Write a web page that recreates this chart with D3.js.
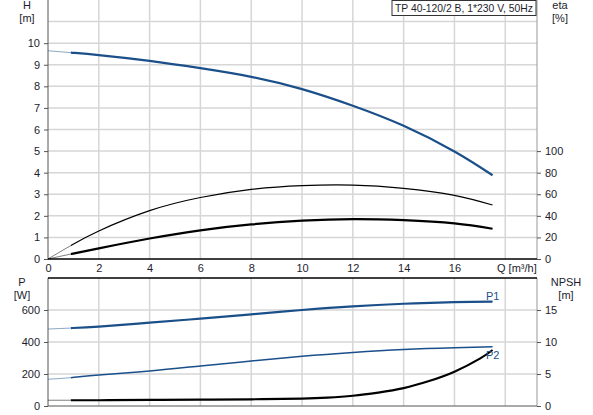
<!DOCTYPE html>
<html>
<head>
<meta charset="utf-8">
<script src="https://cdn.jsdelivr.net/npm/d3@7"></script>
<style>
  body { margin: 0; background: #fff; }
  svg text { font-family: Arial, "Liberation Sans", sans-serif; font-size: 11px; fill: #1c1c2c; }
</style>
</head>
<body>
<script>
// values
var qPoints   = [0, 0.9, 2, 4, 6, 8, 10, 12, 14, 16, 17.5];
var headM     = [9.65, 9.56, 9.45, 9.18, 8.84, 8.44, 7.87, 7.1, 6.17, 4.98, 3.88];
var etaPump   = [0, 12.5, 26, 44.8, 57, 64.5, 68, 68.5, 65.5, 59, 50];
var etaTotal  = [0, 4.6, 9.9, 19, 26.6, 32, 35.5, 37, 36, 33, 28];
var powerP1   = [481, 487, 496, 521, 546, 573, 600, 623, 639, 649, 652];
var powerP2   = [167, 177, 194, 219, 250, 281, 311, 335, 353, 364, 370];
var npshQ     = [0, 2, 4, 6, 8, 10, 11, 12, 13, 14, 15, 16, 17, 17.5];
var npshM     = [0.9, 0.9, 0.95, 1.0, 1.05, 1.15, 1.3, 1.6, 2.1, 2.8, 3.9, 5.36, 7.4, 8.75];

var qTicks    = [0, 2, 4, 6, 8, 10, 12, 14, 16];
var hTicks    = [0, 1, 2, 3, 4, 5, 6, 7, 8, 9, 10];
var etaTicks  = [0, 20, 40, 60, 80, 100];
var pTicks    = [0, 200, 400, 600];
var npshTicks = [0, 5, 10, 15];
var title     = "TP 40-120/2 B, 1*230 V, 50Hz";

var width = 593, height = 415;
var blue = "#1b4f8a";
var grid = "#d6d6d6";

var svg = d3.select("body").append("svg").attr("width", width).attr("height", height);

var x = d3.scaleLinear().domain([0, 19.25]).range([48, 537]);
var yH = d3.scaleLinear().domain([0, 12]).range([259, 0]);
var yEta = d3.scaleLinear().domain([0, 240]).range([259, 0]);
var yP = d3.scaleLinear().domain([0, 800]).range([406, 278]);
var yN = d3.scaleLinear().domain([0, 20]).range([406, 278]);

// clip regions: the part below 0.9 m3/h is drawn faint
var defs = svg.append("defs");
defs.append("clipPath").attr("id", "lowQ").append("rect")
  .attr("x", 0).attr("y", 0).attr("width", x(0.9)).attr("height", height);
defs.append("clipPath").attr("id", "mainQ").append("rect")
  .attr("x", x(0.9)).attr("y", 0).attr("width", width).attr("height", height);

// gridlines
function vGrid(top, bottom) {
  svg.append("g").selectAll("line")
    .data(d3.range(2, 19, 2))
    .enter().append("line")
    .attr("x1", function(d) { return x(d); }).attr("x2", function(d) { return x(d); })
    .attr("y1", top).attr("y2", bottom)
    .style("stroke", grid).style("stroke-width", 1.5);
}
function hGrid(scale, vals) {
  svg.append("g").selectAll("line")
    .data(vals)
    .enter().append("line")
    .attr("x1", 48).attr("x2", 537)
    .attr("y1", function(d) { return scale(d); }).attr("y2", function(d) { return scale(d); })
    .style("stroke", grid).style("stroke-width", 1.5);
}
vGrid(0, 259);
vGrid(278, 406);
hGrid(yH, d3.range(1, 12));
hGrid(yP, [200, 400, 600]);

// axes
function styleAxis(g, color) {
  g.selectAll("path").style("stroke", color);
  g.selectAll("line").style("stroke", color);
  g.selectAll("text").style("font-size", "11px").style("font-family", "Arial, 'Liberation Sans', sans-serif").style("fill", "#1c1c2c");
}

var axHL = svg.append("g").attr("transform", "translate(48,0)")
  .call(d3.axisLeft(yH).tickValues(hTicks).tickSize(4).tickSizeOuter(0).tickPadding(4));
styleAxis(axHL, "#555");
axHL.select("path").attr("d", "M0,259V0");

var axEta = svg.append("g").attr("transform", "translate(537,0)")
  .call(d3.axisRight(yEta).tickValues(etaTicks).tickSize(4).tickSizeOuter(0).tickPadding(4));
styleAxis(axEta, "#999");
axEta.selectAll("line").style("stroke", "#555");
axEta.select("path").attr("d", "M0,259V0");

var axQ = svg.append("g").attr("transform", "translate(0,259)")
  .call(d3.axisBottom(x).tickValues(qTicks).tickSize(0).tickSizeOuter(0).tickPadding(5));
styleAxis(axQ, "#000");
axQ.select("path").attr("d", "M48,0H537").style("stroke-width", 1.5);

var axPL = svg.append("g").attr("transform", "translate(48,0)")
  .call(d3.axisLeft(yP).tickValues(pTicks).tickSize(4).tickSizeOuter(0).tickPadding(4));
styleAxis(axPL, "#555");
axPL.select("path").attr("d", "M0,406V278");

var axN = svg.append("g").attr("transform", "translate(537,0)")
  .call(d3.axisRight(yN).tickValues(npshTicks).tickSize(4).tickSizeOuter(0).tickPadding(4));
styleAxis(axN, "#999");
axN.selectAll("line").style("stroke", "#555");
axN.select("path").attr("d", "M0,406V278");

// frame lines of the lower panel
svg.append("line").attr("x1", 48).attr("x2", 537).attr("y1", 278).attr("y2", 278)
  .style("stroke", "#000").style("stroke-width", 1.5);
svg.append("line").attr("x1", 48).attr("x2", 537).attr("y1", 406).attr("y2", 406)
  .style("stroke", "#555").style("stroke-width", 1);

function curve(qs, vs, ys, color, w) {
  var pts = qs.map(function(q, i) { return [q, vs[i]]; });
  var line = d3.line()
    .x(function(d) { return x(d[0]); })
    .y(function(d) { return ys(d[1]); })
    .curve(d3.curveNatural);
  svg.append("path").attr("d", line(pts)).attr("clip-path", "url(#lowQ)")
    .style("fill", "none").style("stroke", color).style("stroke-width", 1).style("opacity", 0.5);
  svg.append("path").attr("d", line(pts)).attr("clip-path", "url(#mainQ)")
    .style("fill", "none").style("stroke", color).style("stroke-width", w);
}

curve(qPoints, headM, yH, blue, 2.2);
curve(qPoints, etaPump, yEta, "#000", 1.2);
curve(qPoints, etaTotal, yEta, "#000", 2.2);
curve(qPoints, powerP1, yP, blue, 2.2);
curve(qPoints, powerP2, yP, blue, 1.5);
curve(npshQ, npshM, yN, "#000", 2.2);

// curve labels
svg.append("text").attr("x", 486).attr("y", 300).text("P1").style("fill", blue);
svg.append("text").attr("x", 486).attr("y", 359).text("P2").style("fill", blue);

// axis titles
function label(tx, ty, t, anchor) {
  svg.append("text").attr("x", tx).attr("y", ty).attr("text-anchor", anchor || "middle").text(t);
}
label(27, 9, "H");
label(27, 22, "[m]");
label(560, 9, "eta");
label(560, 22, "[%]");
label(22, 286, "P");
label(22, 299, "[W]");
label(566, 286, "NPSH");
label(566, 299, "[m]");
label(497, 272, "Q [m\u00b3/h]", "start");

// title box
var tb = svg.append("g");
tb.append("rect").attr("x", 392).attr("y", 0.5).attr("width", 144).attr("height", 15)
  .style("fill", "#fff").style("stroke", "#333").style("stroke-width", 1);
tb.append("text").attr("x", 395).attr("y", 12)
  .attr("textLength", 138).attr("lengthAdjust", "spacingAndGlyphs").text(title);
</script>
</body>
</html>
